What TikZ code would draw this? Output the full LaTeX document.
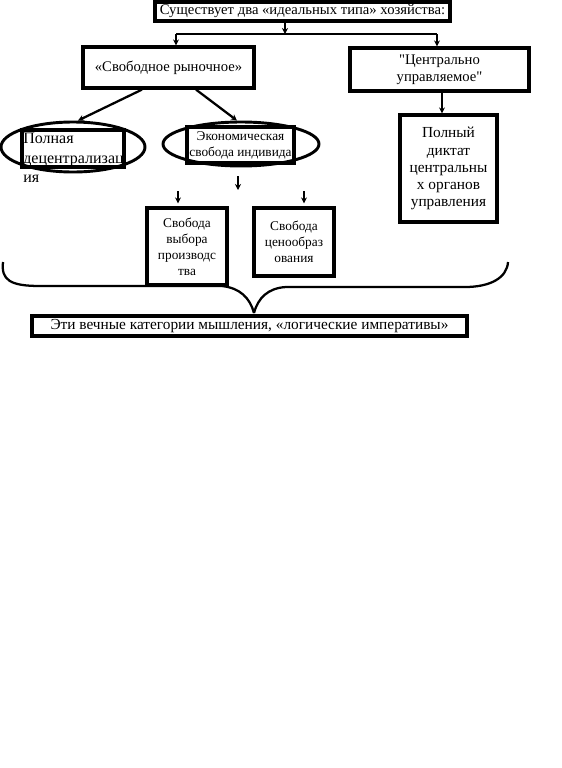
\documentclass[tikz,border=0pt]{standalone}
\usepackage{fontspec}
\setmainfont{Liberation Serif}
\usetikzlibrary{arrows.meta, positioning, shapes.geometric}
\newlength\px
\setlength\px{0.75pt}

\begin{document}
\begin{tikzpicture}[
      x=0.75pt, y=-0.75pt,
      box/.style={rectangle, draw=black, line width=2.4pt, align=center,
                  inner sep=1pt},
      oval/.style={ellipse, draw=black, line width=2.2pt, inner sep=0pt},
      arr/.style={-{Stealth[length=4.5pt, width=4.5pt]}, line width=1.7pt},
      ln/.style={line width=1.7pt}
    ]
    \useasboundingbox (0,0) rectangle (561,768);

    \node[box, minimum width=295\px, minimum height=19\px, font=\fontsize{11}{12}\selectfont] (types) at (302.5,11.5) {Существует два «идеальных типа» хозяйства:};
    \node[box, minimum width=171\px, minimum height=41\px, font=\fontsize{11}{12}\selectfont] (free) at (168.5,67.5) {«Свободное рыночное»};
    \node[box, minimum width=179\px, minimum height=43\px, font=\fontsize{11}{13}\selectfont] (central) at (439.5,69.5) {\textquotedbl Центрально\\ управляемое\textquotedbl};
    \node[box, minimum width=97\px, minimum height=107\px, font=\fontsize{11.5}{12.8}\selectfont] (dictat) at (448.5,168.5) {Полный\\ диктат\\ центральны\\ х органов\\ управления};

    \node[oval, minimum width=144\px, minimum height=50\px] (decell) at (73,147) {};
    \node[box, minimum width=102\px, minimum height=37\px] (decbox) at (73,148.5) {};
    \node[anchor=north west, align=left, inner sep=0pt, font=\fontsize{12}{14.5}\selectfont] (dectext) at (23,133) {Полная\\ децентрализац\\ ия};

    \node[oval, minimum width=156\px, minimum height=44\px] (econell) at (241,144) {};
    \node[box, minimum width=107\px, minimum height=36\px, font=\fontsize{10}{12}\selectfont] (econ) at (240.5,145) {Экономическая\\ свобода индивида};

    \node[box, minimum width=80\px, minimum height=77\px, font=\fontsize{10}{12}\selectfont] (choice) at (187,246.5) {Свобода\\ выбора\\ производс\\ тва};
    \node[box, minimum width=80\px, minimum height=68\px, font=\fontsize{10}{12}\selectfont] (price) at (294,242) {Свобода\\ ценообраз\\ ования};

    \node[box, minimum width=435\px, minimum height=20\px, font=\fontsize{11.5}{12}\selectfont] (eternal) at (249.5,326) {Эти вечные категории мышления, «логические императивы»};

    \coordinate (fork) at (285,34);
    \coordinate (lfork) at (176,34);
    \coordinate (rfork) at (437,34);
    \draw[arr] (types.south -| fork) -- (fork);
    \draw[ln] (lfork) -- (rfork);
    \draw[arr] (lfork) -- (lfork |- free.north);
    \draw[arr] (rfork) -- (rfork |- central.north);
    \draw[arr] ([xshift=2.5\px]central.south) -- ([xshift=-6.5\px]dictat.north);

    \draw[arr] ([xshift=-26.5\px]free.south) -- ([xshift=5\px]decell.north);
    \draw[arr] ([xshift=27.5\px]free.south) -- ([xshift=-4\px]econell.north);

    \coordinate (a1) at (178,191);
    \coordinate (a2) at (238,176);
    \coordinate (a2e) at (238,190);
    \coordinate (a3) at (304,191);
    \draw[arr] (a1) -- ([yshift=3\px]a1 |- choice.north);
    \draw[arr] (a2) -- (a2e);
    \draw[arr] (a3) -- ([yshift=3\px]a3 |- price.north);

    \coordinate (tip) at (254,313);
    \draw[ln] (3,262) .. controls (1,280) and (10,286) .. (40,286)
      -- (222,286) .. controls (240,288) and (250,298) .. (tip);
    \draw[ln] (508,262) .. controls (507,278) and (490,287) .. (465,287)
      -- (286,287) .. controls (268,288) and (258,298) .. (tip);
\end{tikzpicture}
\end{document}
